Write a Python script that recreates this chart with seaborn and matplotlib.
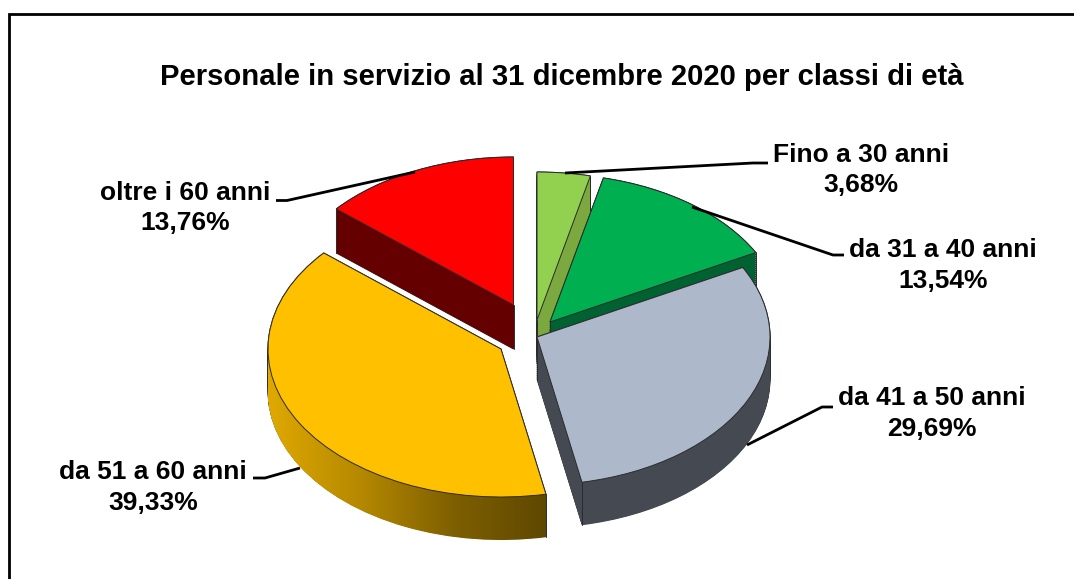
import matplotlib
matplotlib.use("Agg")
import matplotlib.pyplot as plt
import numpy as np
import seaborn as sns
from matplotlib.path import Path

# ---- data ----
categories = ["Fino a 30 anni", "da 31 a 40 anni", "da 41 a 50 anni", "da 51 a 60 anni", "oltre i 60 anni"]
shares = [3.68, 13.54, 29.69, 39.33, 13.76]
share_labels = ["3,68%", "13,54%", "29,69%", "39,33%", "13,76%"]
title = "Personale in servizio al 31 dicembre 2020 per classi di età"

top_colors = ["#92D050", "#00B050", "#ADB9CA", "#FFC000", "#FF0000"]
wall_colors = ["#7BA83F", "#006230", "#454A52", "#C09000", "#640000"]
gold_wall_ramp = ["#E0A900", "#B48800", "#7E5F00", "#5E4700"]

# slice tip positions in pixels, wall depth in pixels
tips = [(537, 320), (550, 322), (537, 337), (501, 349), (513.5, 305)]
depths = [44, 44, 43, 43, 44]
A, B = 233.0, 148.0
W, H = 1074, 579
draw_order = [4, 0, 1, 3, 2]

label_xy = [(861, 155), (943, 250), (932, 398), (153, 472), (185, 193)]
leaders = [
    [(768, 163), (753, 163), (565, 173)],
    [(844, 255), (833, 255), (692, 207)],
    [(833, 407), (822, 407), (747, 445)],
    [(253, 478), (265, 478), (300, 468)],
    [(276, 200.5), (287, 200.5), (415, 172)],
]

sns.set_theme(style="white")
plt.rcParams["font.family"] = ["Liberation Sans", "DejaVu Sans"]

fig = plt.figure(figsize=(W / 100, H / 100), dpi=100, facecolor="white")
ax = fig.add_axes([0, 0, 1, 1])
k = B / A
ymax = H / k


def to_y(py):
    return (H - py) / k


def wedge_at(i, px, py, **style):
    """One slice of the pie, laid on the flattened data axes."""
    wedges, _ = ax.pie(shares, startangle=90, counterclock=False, radius=A,
                       center=(px, to_y(py)), frame=True, normalize=True)
    for j, w in enumerate(wedges):
        if j != i:
            w.remove()
    w = wedges[i]
    w.set(**style)
    return w


EDGE = "#2b2b2b"
gold_cmap = sns.blend_palette(gold_wall_ramp, n_colors=128, as_cmap=True)
ax.set_xlim(0, W)
ax.set_ylim(0, ymax)

bounds = np.cumsum([0] + shares) / 100 * 2 * np.pi

for z, i in enumerate(draw_order):
    px, py = tips[i]
    d = depths[i]
    zo = 2 + z * 3
    # outline of the wall
    for s in range(0, d + 1, 2):
        wedge_at(i, px, py + s, facecolor=EDGE, edgecolor=EDGE, linewidth=0.7, zorder=zo)
    # wall fill
    paths = []
    for s in range(0, d + 1):
        w = wedge_at(i, px, py + s, facecolor=wall_colors[i], edgecolor="none", zorder=zo + 0.1)
        if i == 3:
            paths.append(w.get_path().transformed(w.get_patch_transform()))
            w.remove()
    if i == 3:
        grad = np.linspace(0, 1, 256).reshape(1, -1)
        im = ax.imshow(grad, cmap=gold_cmap, aspect="auto", zorder=zo + 0.1,
                       extent=(px - A, px + 47, to_y(py + B + d + 5), to_y(py - B)))
        im.set_clip_path(Path.make_compound_path(*paths), ax.transData)
        ax.set_xlim(0, W)
        ax.set_ylim(0, ymax)
    # vertical arrises at the slice corners
    for b in bounds[i:i + 2]:
        cx, cy = px + A * np.sin(b), py - B * np.cos(b)
        ax.plot([cx, cx], [to_y(cy), to_y(cy + d)], color=EDGE, lw=0.7, zorder=zo + 0.15)
    ax.plot([px, px], [to_y(py), to_y(py + d)], color=EDGE, lw=0.7, zorder=zo + 0.15)
    # top face
    wedge_at(i, px, py, facecolor=top_colors[i], edgecolor=EDGE, linewidth=0.7, zorder=zo + 0.2)

ax.set_aspect("auto")
ax.set_xlim(0, W)
ax.set_ylim(0, ymax)
ax.set_axis_off()

# overlay in pixel coordinates for frame, leaders and text
ov = fig.add_axes([0, 0, 1, 1], facecolor="none")
ov.set_xlim(0, W)
ov.set_ylim(H, 0)
ov.set_axis_off()

ov.plot([9, 9, W], [H, 14, 14], color="black", lw=2.0, solid_joinstyle="miter")

for pts in leaders:
    xs, ys = zip(*pts)
    ov.plot(xs, ys, color="black", lw=2.0, solid_capstyle="butt")

ov.text(561.5, 77, title, ha="center", va="center", fontsize=21.05, fontweight="bold", color="black")
for (x, y), c, s in zip(label_xy, categories, share_labels):
    ov.text(x, y, c, ha="center", va="center", fontsize=19, fontweight="bold", color="black")
    ov.text(x, y + 30.5, s, ha="center", va="center", fontsize=19, fontweight="bold", color="black")

fig.savefig("out.png", dpi=100, facecolor="white")
